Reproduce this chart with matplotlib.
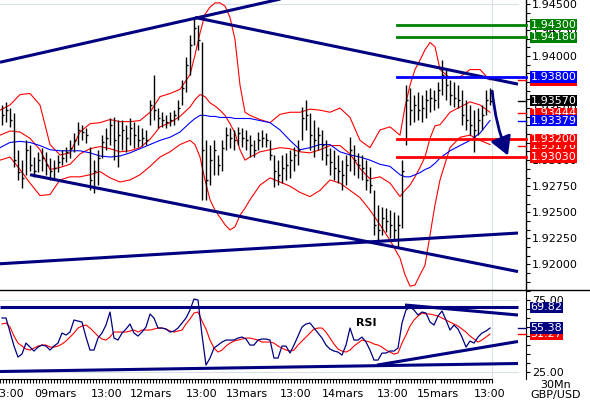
import numpy as np
import matplotlib
matplotlib.use('Agg')
import matplotlib.pyplot as plt
from matplotlib.lines import Line2D
from matplotlib.ticker import MultipleLocator, FixedLocator, FormatStrFormatter

# GBP/USD 30Mn, drawn as hourly HLC bars; x axis in hours from the left edge
bar_high = [1.9353, 1.9356, 1.9350, 1.9345, 1.9310, 1.9300, 1.9319, 1.9315, 1.9303, 1.9308,
            1.9312, 1.9308, 1.9302, 1.9300, 1.9305, 1.9310, 1.9313, 1.9319, 1.9326, 1.9337,
            1.9334, 1.9331, 1.9313, 1.9300, 1.9310, 1.9324, 1.9331, 1.9340, 1.9341, 1.9339,
            1.9339, 1.9334, 1.9340, 1.9337, 1.9334, 1.9331, 1.9329, 1.9358, 1.9382, 1.9350,
            1.9346, 1.9343, 1.9346, 1.9348, 1.9358, 1.9377, 1.9399, 1.9420, 1.9437, 1.9430,
            1.9413, 1.9319, 1.9315, 1.9319, 1.9305, 1.9319, 1.9332, 1.9331, 1.9329, 1.9332,
            1.9331, 1.9329, 1.9324, 1.9319, 1.9327, 1.9329, 1.9326, 1.9319, 1.9305, 1.9300,
            1.9305, 1.9307, 1.9310, 1.9313, 1.9319, 1.9351, 1.9358, 1.9345, 1.9339, 1.9332,
            1.9329, 1.9319, 1.9312, 1.9310, 1.9305, 1.9300, 1.9305, 1.9322, 1.9315, 1.9307,
            1.9305, 1.9300, 1.9293, 1.9271, 1.9257, 1.9255, 1.9254, 1.9252, 1.9250, 1.9247,
            1.9300, 1.9372, 1.9369, 1.9363, 1.9365, 1.9363, 1.9367, 1.9369, 1.9367, 1.9375,
            1.9396, 1.9387, 1.9377, 1.9375, 1.9372, 1.9367, 1.9358, 1.9353, 1.9348, 1.9350,
            1.9353, 1.9367, 1.9369]
bar_low = [1.9334, 1.9337, 1.9332, 1.9293, 1.9281, 1.9273, 1.9286, 1.9290, 1.9284, 1.9289,
           1.9290, 1.9286, 1.9281, 1.9283, 1.9289, 1.9295, 1.9298, 1.9302, 1.9308, 1.9315,
           1.9319, 1.9316, 1.9271, 1.9268, 1.9276, 1.9302, 1.9310, 1.9315, 1.9300, 1.9293,
           1.9310, 1.9308, 1.9315, 1.9312, 1.9313, 1.9314, 1.9315, 1.9334, 1.9339, 1.9331,
           1.9332, 1.9331, 1.9333, 1.9334, 1.9339, 1.9353, 1.9365, 1.9382, 1.9411, 1.9406,
           1.9262, 1.9262, 1.9276, 1.9286, 1.9286, 1.9290, 1.9310, 1.9312, 1.9310, 1.9315,
           1.9313, 1.9310, 1.9303, 1.9303, 1.9310, 1.9313, 1.9313, 1.9300, 1.9274, 1.9276,
           1.9278, 1.9281, 1.9283, 1.9290, 1.9295, 1.9319, 1.9329, 1.9310, 1.9303, 1.9310,
           1.9300, 1.9295, 1.9286, 1.9281, 1.9278, 1.9271, 1.9276, 1.9290, 1.9286, 1.9283,
           1.9281, 1.9271, 1.9268, 1.9228, 1.9223, 1.9228, 1.9231, 1.9225, 1.9223, 1.9216,
           1.9235, 1.9315, 1.9334, 1.9337, 1.9339, 1.9337, 1.9340, 1.9346, 1.9348, 1.9350,
           1.9363, 1.9358, 1.9353, 1.9351, 1.9350, 1.9334, 1.9329, 1.9324, 1.9308, 1.9324,
           1.9329, 1.9343, 1.9353]
bar_close = [1.9343, 1.9348, 1.9339, 1.9300, 1.9289, 1.9283, 1.9310, 1.9295, 1.9290, 1.9300,
             1.9302, 1.9295, 1.9290, 1.9292, 1.9298, 1.9302, 1.9308, 1.9312, 1.9319, 1.9329,
             1.9327, 1.9324, 1.9281, 1.9290, 1.9302, 1.9317, 1.9321, 1.9334, 1.9319, 1.9324,
             1.9329, 1.9321, 1.9331, 1.9324, 1.9319, 1.9321, 1.9319, 1.9353, 1.9348, 1.9340,
             1.9339, 1.9337, 1.9339, 1.9343, 1.9350, 1.9369, 1.9391, 1.9411, 1.9427, 1.9415,
             1.9310, 1.9281, 1.9300, 1.9310, 1.9295, 1.9312, 1.9324, 1.9321, 1.9319, 1.9326,
             1.9321, 1.9319, 1.9315, 1.9310, 1.9319, 1.9321, 1.9319, 1.9305, 1.9290, 1.9286,
             1.9292, 1.9295, 1.9300, 1.9305, 1.9310, 1.9340, 1.9343, 1.9324, 1.9319, 1.9324,
             1.9315, 1.9305, 1.9298, 1.9292, 1.9290, 1.9286, 1.9295, 1.9310, 1.9300, 1.9295,
             1.9292, 1.9281, 1.9276, 1.9238, 1.9233, 1.9244, 1.9242, 1.9238, 1.9233, 1.9238,
             1.9290, 1.9358, 1.9348, 1.9353, 1.9348, 1.9350, 1.9358, 1.9360, 1.9358, 1.9367,
             1.9382, 1.9372, 1.9363, 1.9360, 1.9358, 1.9343, 1.9339, 1.9334, 1.9329, 1.9339,
             1.9343, 1.9358, 1.9357]

rsi = [62.4, 62.4, 52.6, 42.8, 35.1, 37.2, 44.9, 42.1, 39.3, 42.1,
       43.5, 42.8, 40.0, 42.8, 44.9, 51.9, 50.5, 52.6, 61.0, 60.3,
       59.6, 49.1, 40.0, 40.0, 48.4, 51.9, 57.5, 66.6, 48.4, 47.0,
       51.9, 54.7, 58.2, 51.9, 49.8, 52.6, 56.1, 65.2, 62.4, 55.4,
       55.4, 54.7, 52.6, 53.3, 55.4, 58.9, 62.4, 68.0, 75.7, 75.0,
       50.5, 29.5, 34.4, 41.4, 43.5, 45.6, 47.0, 47.0, 47.0, 48.4,
       49.1, 47.7, 43.5, 43.5, 47.0, 47.7, 47.7, 47.0, 34.4, 34.4,
       42.8, 42.8, 37.9, 43.5, 49.8, 56.1, 58.2, 58.9, 55.4, 51.9,
       48.4, 43.5, 40.7, 39.3, 38.6, 36.5, 43.5, 55.4, 47.0, 47.0,
       49.1, 45.6, 40.0, 33.0, 33.0, 37.9, 37.9, 39.3, 39.3, 41.4,
       58.9, 68.0, 70.1, 68.0, 64.5, 66.6, 65.9, 59.6, 57.5, 63.8,
       67.3, 61.0, 54.0, 57.5, 54.7, 49.1, 42.1, 46.3, 44.9, 49.1,
       51.9, 53.3, 55.4]
rsi_ma = [58.2, 58.9, 56.1, 49.8, 44.9, 42.8, 40.7, 40.0, 41.4, 42.8,
          43.5, 43.5, 42.1, 42.1, 42.8, 44.2, 46.3, 49.1, 51.9, 55.4,
          56.8, 57.5, 55.4, 52.6, 49.8, 47.7, 47.0, 49.1, 52.6, 52.6,
          52.6, 52.6, 53.3, 54.0, 52.6, 54.0, 54.0, 54.0, 54.7, 55.4,
          55.4, 54.7, 53.3, 52.6, 53.3, 54.0, 58.2, 61.7, 65.9, 66.6,
          60.3, 54.7, 47.0, 41.4, 38.6, 40.0, 42.8, 44.9, 46.3, 47.0,
          47.7, 48.4, 48.4, 47.7, 47.0, 45.6, 45.6, 45.6, 44.9, 42.8,
          41.4, 40.0, 39.3, 40.0, 43.5, 46.3, 49.1, 51.9, 54.7, 55.4,
          55.4, 52.6, 48.4, 44.2, 40.7, 39.3, 38.6, 40.0, 42.8, 44.9,
          47.0, 46.3, 45.6, 44.2, 43.5, 42.1, 40.0, 38.6, 37.2, 37.9,
          44.9, 50.5, 56.8, 61.0, 63.8, 65.9, 65.2, 65.2, 64.5, 63.8,
          62.4, 61.0, 59.6, 58.2, 56.8, 54.7, 52.6, 49.8, 47.7, 45.6,
          47.0, 49.1, 51.2]

# bollinger bands (red) and moving average (blue), sampled along the chart
band_h = [0, 2.5, 5, 7.5, 10, 12.5, 15, 17.5, 20, 22.5, 25, 27.5, 30, 32.5, 35, 37.5, 40, 42.5, 45, 47.5,
          48.75, 50, 51.25, 52.5, 53.75, 55, 56.25, 57.5, 58.75, 60, 61.25, 62.5,
          65, 67.5, 70, 72.5, 75, 77.5, 80, 82.5, 85, 87.5, 90, 92.5, 95, 97.5, 100,
          101.25, 102.5, 103.75, 105, 106.25, 107.5, 108.75, 110,
          112.5, 115, 117.5, 120, 122.5]
bb_upper = [1.9348, 1.9353, 1.9363, 1.9364, 1.9353, 1.9315, 1.9305, 1.9307, 1.9327, 1.9335,
            1.9336, 1.9339, 1.9337, 1.9337, 1.9338, 1.9346, 1.9361, 1.9364, 1.9368, 1.9382,
            1.9401, 1.9422, 1.9440, 1.9447, 1.9451, 1.9451, 1.9448, 1.9437, 1.9416, 1.9372, 1.9346, 1.9343,
            1.9339, 1.9336, 1.9344, 1.9346, 1.9346, 1.9349, 1.9348, 1.9346, 1.9350, 1.9341, 1.9319, 1.9312,
            1.9329, 1.9332, 1.9324,
            1.9351, 1.9372, 1.9387, 1.9396, 1.9406, 1.9413, 1.9409, 1.9387,
            1.9379, 1.9380, 1.9387, 1.9387, 1.9377]
bb_mid = [1.9324, 1.9328, 1.9327, 1.9321, 1.9310, 1.9291, 1.9293, 1.9296, 1.9306, 1.9311,
          1.9313, 1.9311, 1.9308, 1.9309, 1.9312, 1.9320, 1.9332, 1.9336, 1.9342, 1.9351,
          1.9358, 1.9363, 1.9361, 1.9355, 1.9352, 1.9348, 1.9343, 1.9335, 1.9326, 1.9310, 1.9300, 1.9303,
          1.9308, 1.9310, 1.9312, 1.9311, 1.9308, 1.9307, 1.9310, 1.9314, 1.9314, 1.9306, 1.9292, 1.9282,
          1.9284, 1.9278, 1.9265,
          1.9271, 1.9276, 1.9284, 1.9293, 1.9303, 1.9321, 1.9333, 1.9334,
          1.9346, 1.9351, 1.9356, 1.9353, 1.9346]
bb_lower = [1.9300, 1.9303, 1.9291, 1.9278, 1.9266, 1.9267, 1.9281, 1.9284, 1.9284, 1.9286,
            1.9289, 1.9283, 1.9279, 1.9281, 1.9286, 1.9294, 1.9303, 1.9308, 1.9315, 1.9319,
            1.9315, 1.9303, 1.9281, 1.9262, 1.9252, 1.9245, 1.9238, 1.9233, 1.9236, 1.9247, 1.9254, 1.9262,
            1.9276, 1.9283, 1.9279, 1.9275, 1.9269, 1.9265, 1.9271, 1.9281, 1.9278, 1.9271, 1.9264, 1.9252,
            1.9238, 1.9223, 1.9206,
            1.9190, 1.9179, 1.9180, 1.9190, 1.9199, 1.9228, 1.9257, 1.9281,
            1.9312, 1.9322, 1.9324, 1.9319, 1.9315]
ma_blue = [1.9312, 1.9317, 1.9318, 1.9317, 1.9314, 1.9310, 1.9309, 1.9309, 1.9309, 1.9307,
           1.9304, 1.9303, 1.9304, 1.9307, 1.9311, 1.9315, 1.9319, 1.9322, 1.9327, 1.9336,
           1.9340, 1.9343, 1.9343, 1.9342, 1.9342, 1.9341, 1.9341, 1.9341, 1.9340, 1.9340, 1.9340, 1.9340,
           1.9338, 1.9336, 1.9329, 1.9319, 1.9310, 1.9312, 1.9315, 1.9315, 1.9308, 1.9305, 1.9303, 1.9300,
           1.9296, 1.9294, 1.9286,
           1.9284, 1.9284, 1.9286, 1.9288, 1.9291, 1.9293, 1.9297, 1.9302,
           1.9309, 1.9314, 1.9319, 1.9326, 1.9338]

# trend lines (hour, price) pairs
trend_lines = [((0, 1.9394), (75, 1.9459)),
               ((48.75, 1.9437), (129.5, 1.9373)),
               ((7.5, 1.9286), (129.5, 1.9193)),
               ((0, 1.92005), (129.5, 1.9230))]
arrow_from = (123.0, 1.9369)
arrow_to = (127.25, 1.9302)
rsi_lines = [((0, 69.82), (129.5, 69.82)),
             ((101.25, 71.5), (129.5, 64.5)),
             ((94.25, 29.5), (129.5, 46.0)),
             ((0, 25.0), (129.5, 30.6))]

# horizontal levels drawn from 15mars
levels = [1.9430, 1.9418, 1.9380, 1.9320, 1.9303]
level_colors = ['#008000', '#008000', '#0000ff', '#ff0000', '#ff0000']
level_start = 99.25

# price scale labels (the ones hidden behind boxes are still drawn)
price_ticks = [1.9175, 1.9200, 1.9225, 1.9250, 1.9275, 1.9300, 1.9350, 1.9375, 1.9400, 1.9425, 1.9450]

# right-hand value boxes, in drawing order
price_tags = [(1.9377, '1.93770', '#ff0000'), (1.9430, '1.94300', '#008000'),
              (1.9418, '1.94180', '#008000'), (1.9380, '1.93800', '#0000ff'),
              (1.9345, '1.93444', '#ff0000'), (1.9357, '1.93570', '#000000'),
              (1.9338, '1.93379', '#0000ff'), (1.9314, '1.93176', '#ff0000'),
              (1.9320, '1.93200', '#ff0000'), (1.9303, '1.93030', '#ff0000')]
last_marks = [(1.9377, '#ff0000'), (1.9345, '#ff0000'), (1.9338, '#0000ff'),
              (1.9314, '#ff0000'), (1.9357, '#000000')]
rsi_tags = [(51.27, '51.27', '#ff0000'), (55.38, '55.38', '#000080'), (69.82, '69.82', '#000080')]
rsi_marks = [(55.38, '#000080'), (51.27, '#ff0000')]

time_pos = [2.2, 13.75, 26.75, 37.7, 50.4, 61.7, 74.0, 85.75, 98.25, 109.5, 122.5]
time_lab = ['13:00', '09mars', '13:00', '12mars', '13:00', '13mars',
            '13:00', '14mars', '13:00', '15mars', '13:00']

navy = '#000080'
grid = '#d9e1e8'

fig = plt.figure(figsize=(5.9, 4.0), dpi=100)
ax = fig.add_axes([0, 110 / 400, 526 / 590, 290 / 400])
ax2 = fig.add_axes([0, 21 / 400, 526 / 590, 89 / 400])


def tag(a, y, text, color):
    a.annotate(text, xy=(1, y), xycoords=('axes fraction', 'data'),
               xytext=(3.2, 0), textcoords='offset points', va='center', ha='left',
               fontsize=8, color='white', annotation_clip=False,
               bbox=dict(boxstyle='square,pad=0.06', fc=color, ec='none'))


# ---- price panel
ax.set_xlim(0, 131.5)
ax.set_ylim(1.91753, 1.94538)
ax.axvline(123, color=grid, lw=0.8, zorder=0)
ax.axhline(1.945, xmax=129.5 / 131.5, color=grid, lw=0.8, zorder=0)

hrs = np.arange(len(bar_high)) + 0.5
ax.vlines(hrs, bar_low, bar_high, color='black', lw=1.0, zorder=3)
ax.hlines(bar_close, hrs, hrs + 0.45, color='black', lw=1.0, zorder=3)

ax.plot(band_h, bb_upper, color='#ff0000', lw=0.8, zorder=2)
ax.plot(band_h, bb_mid, color='#ff0000', lw=0.8, zorder=2)
ax.plot(band_h, bb_lower, color='#ff0000', lw=0.8, zorder=2)
ax.plot(band_h, ma_blue, color='#0000ff', lw=0.8, zorder=2)

for (x0, y0), (x1, y1) in trend_lines:
    ax.plot([x0, x1], [y0, y1], color=navy, lw=2.2, zorder=4, solid_capstyle='butt')
for lv, c in zip(levels, level_colors):
    ax.plot([level_start, 131.5], [lv, lv], color=c, lw=2.0, zorder=4, clip_on=False)
ax.annotate('', xy=arrow_to, xytext=arrow_from,
            arrowprops=dict(arrowstyle='-|>,head_length=0.7,head_width=0.4',
                            color=navy, lw=2.0, mutation_scale=16,
                            connectionstyle='arc3,rad=0.08'), zorder=5)
for v, c in last_marks:
    ax.plot([129.5, 131.5], [v, v], color=c, lw=1.0, zorder=4, clip_on=False)

for s in ['top', 'left', 'bottom']:
    ax.spines[s].set_visible(False)
ax.spines['right'].set_linewidth(1.0)
ax.yaxis.tick_right()
ax.yaxis.set_major_locator(FixedLocator(price_ticks))
ax.yaxis.set_minor_locator(MultipleLocator(0.0025 / 3))
ax.yaxis.set_major_formatter(FormatStrFormatter('%.5f'))
ax.tick_params(axis='y', which='both', direction='out', length=3, width=0.8,
               labelsize=8, pad=1.5)
ax.tick_params(axis='x', bottom=False, labelbottom=False)
for v, t, c in price_tags:
    tag(ax, v, t, c)

# ---- RSI panel
ax2.set_xlim(0, 131.5)
ax2.set_ylim(19.76, 82.0)
ax2.axvline(123, color=grid, lw=0.8, zorder=0)
ax2.axhline(75, xmax=129.5 / 131.5, color=grid, lw=0.8, zorder=0)
ax2.axhline(25, xmax=129.5 / 131.5, color=grid, lw=0.8, zorder=0)
ax2.plot(hrs, rsi_ma, color='#ff0000', lw=0.8, zorder=3)
ax2.plot(hrs, rsi, color=navy, lw=0.9, zorder=3)
for (x0, y0), (x1, y1) in rsi_lines:
    ax2.plot([x0, x1], [y0, y1], color=navy, lw=2.2, zorder=4, solid_capstyle='butt')
for v, c in rsi_marks:
    ax2.plot([129.5, 131.5], [v, v], color=c, lw=1.0, zorder=4, clip_on=False)
ax2.text(91.5, 58.9, 'RSI', fontsize=8, fontweight='bold', ha='center', va='center')

for s in ['top', 'left']:
    ax2.spines[s].set_visible(False)
ax2.spines['bottom'].set_bounds(0, 123)
ax2.yaxis.tick_right()
ax2.yaxis.set_major_locator(FixedLocator([25, 50, 75]))
ax2.yaxis.set_minor_locator(MultipleLocator(6.25))
ax2.yaxis.set_major_formatter(FormatStrFormatter('%.2f'))
ax2.tick_params(axis='y', which='both', direction='out', length=3, width=0.8,
                labelsize=8, pad=1.5)
ax2.set_xticks(time_pos)
ax2.set_xticklabels(time_lab)
ax2.xaxis.set_minor_locator(FixedLocator(np.arange(0, 123.1, 0.75)))
ax2.tick_params(axis='x', which='major', length=0, pad=7, labelsize=8)
ax2.tick_params(axis='x', which='minor', length=3, width=0.8, direction='out')
for v, t, c in rsi_tags:
    tag(ax2, v, t, c)

fig.add_artist(Line2D([0, 1], [110 / 400, 110 / 400], color='black', lw=1.0))
fig.text(556 / 590, 1 - 385 / 400, '30Mn', fontsize=8, ha='center', va='center')
fig.text(556 / 590, 1 - 395 / 400, 'GBP/USD', fontsize=8, ha='center', va='center')

fig.savefig('out.png', dpi=100)
